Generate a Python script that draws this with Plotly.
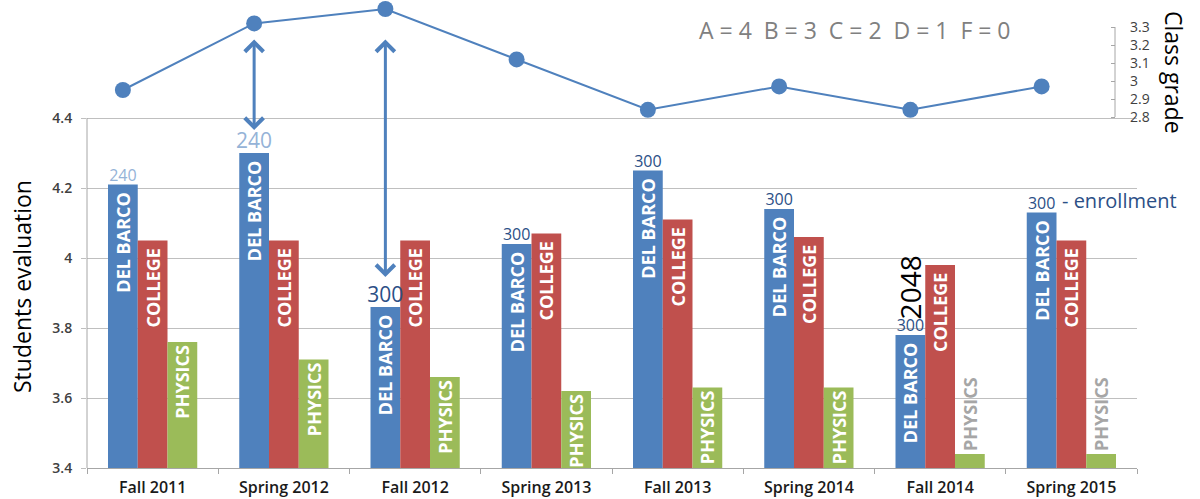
import numpy as np
import plotly.graph_objects as go

# ---------------- data ----------------
terms = ["Fall 2011", "Spring 2012", "Fall 2012", "Spring 2013",
         "Fall 2013", "Spring 2014", "Fall 2014", "Spring 2015"]
del_barco = [4.21, 4.30, 3.86, 4.04, 4.25, 4.14, 3.78, 4.13]
college = [4.05, 4.05, 4.05, 4.07, 4.11, 4.06, 3.98, 4.05]
physics = [3.76, 3.71, 3.66, 3.62, 3.63, 3.63, 3.44, 3.44]
class_grade = [2.95, 3.32, 3.40, 3.12, 2.84, 2.97, 2.84, 2.97]
enrollment = ["240", "240", "300", "300", "300", "300", "300", "300"]
eval_ticks = [3.4, 3.6, 3.8, 4.0, 4.2, 4.4]
eval_ticktext = ["3.4", "3.6", "3.8", "4", "4.2", "4.4"]
grade_ticks = [2.8, 2.9, 3.0, 3.1, 3.2, 3.3]
grade_ticktext = ["2.8", "2.9", "3", "3.1", "3.2", "3.3"]
series_labels = ["DEL BARCO", "COLLEGE", "PHYSICS"]
grade_key = "A = 4\u00a0\u00a0B = 3\u00a0\u00a0C = 2\u00a0\u00a0D = 1\u00a0\u00a0F = 0"

# ---------------- styling / layout constants ----------------
W, H = 1200, 499
ML, MR, MT, MB = 87, 63, 0, 31
PW, PH = W - ML - MR, H - MT - MB
BLUE, RED, GREEN = "#4F81BD", "#C0504D", "#9BBB59"
GRID = "#BFBFBF"
AXIS = "#A6A6A6"
FONT = "Open Sans"
BARGAP = 0.32
PAD = "\u00a0"

idx = np.arange(len(terms))
unit = (1 - BARGAP) / 3          # width of one bar in x units
db_x = idx - unit                # centre of the DEL BARCO bars

# left axis: 350 px per unit, right axis: 180 px per unit (3.3 at 27 px from top)
y_range = [3.4, 3.4 + PH / 350]
y2_top = 3.3 + 27 / 180
y2_range = [y2_top - PH / 180, y2_top]
y2_pos = (1115 - ML) / PW


def px_x(p):
    return (p - ML) / PW


def px_y(p):
    return 1 - (p - MT) / PH


def py_val(p):  # pixel row -> left-axis value
    return y_range[0] + (MT + PH - p) / 350


fig = go.Figure()

bar_font_in = dict(family=FONT, size=18, color="white", weight="bold")
for vals, color, label in [(del_barco, BLUE, series_labels[0]),
                           (college, RED, series_labels[1])]:
    fig.add_bar(x=idx, y=vals, marker=dict(color=color, line=dict(width=0)),
                text=[label + PAD] * len(vals), textposition="inside",
                insidetextanchor="end", textangle=-90, constraintext="none",
                insidetextfont=bar_font_in, name=label, hoverinfo="y")

phys_pos = ["inside" if v > 3.5 else "outside" for v in physics]
fig.add_bar(x=idx, y=physics, marker=dict(color=GREEN, line=dict(width=0)),
            text=[series_labels[2]] * len(physics), textposition=phys_pos,
            insidetextanchor="end", textangle=-90, constraintext="none",
            insidetextfont=bar_font_in,
            outsidetextfont=dict(family=FONT, size=18, color="#A6A6A6", weight="bold"),
            name=series_labels[2], hoverinfo="y")

# enrollment labels above DEL BARCO bars
enroll_colors = ["#95B3D7" if e == "240" else "#2B4F86" for e in enrollment]
enroll_sizes = [16, 21, 21, 16, 16, 16, 16, 16]
fig.add_scatter(x=db_x, y=del_barco, mode="text", text=enrollment,
                textposition="top center",
                textfont=dict(family=FONT, size=enroll_sizes, color=enroll_colors),
                showlegend=False, hoverinfo="skip", cliponaxis=False)

# class grade line
fig.add_scatter(x=db_x, y=class_grade, yaxis="y2", mode="lines+markers",
                line=dict(color=BLUE, width=2),
                marker=dict(size=16, color=BLUE),
                cliponaxis=False, name="Class grade")

fig.update_layout(
    width=W, height=H,
    margin=dict(l=ML, r=MR, t=MT, b=MB),
    paper_bgcolor="white", plot_bgcolor="white",
    barmode="group", bargap=BARGAP, bargroupgap=0,
    showlegend=False,
    font=dict(family=FONT, color="#262626"),
    xaxis=dict(range=[-0.5, len(terms) - 0.5], tickvals=idx, ticktext=terms,
               ticks="", showgrid=False, zeroline=False,
               showline=True, linecolor=AXIS, linewidth=1,
               tickfont=dict(family=FONT, size=16, color="#1a1a1a", weight=600),
               ticklabelstandoff=5,
               minor=dict(tickvals=list(np.arange(len(terms) + 1) - 0.5),
                          ticks="outside", ticklen=5, tickcolor=AXIS,
                          showgrid=False)),
    yaxis=dict(range=y_range, tickvals=eval_ticks, ticktext=eval_ticktext,
               showgrid=True, gridcolor=GRID, gridwidth=1, zeroline=False,
               showline=False, ticks="outside", ticklen=5, tickcolor=GRID,
               tickfont=dict(family=FONT, size=14, color="#404040", weight=600),
               ticklabelstandoff=6),
    yaxis2=dict(overlaying="y", side="right", anchor="free", position=y2_pos,
                range=y2_range, tickvals=grade_ticks, ticktext=grade_ticktext,
                showgrid=False, zeroline=False, showline=False,
                ticks="inside", ticklen=4, tickcolor=AXIS,
                tickfont=dict(family=FONT, size=14, color="#404040"),
                ticklabelstandoff=14),
)

# partial axis lines
fig.add_shape(type="line", xref="paper", yref="y", x0=0, x1=0,
              y0=eval_ticks[0], y1=eval_ticks[-1],
              line=dict(color=AXIS, width=1))
fig.add_shape(type="line", xref="paper", yref="y2", x0=y2_pos, x1=y2_pos,
              y0=grade_ticks[0], y1=grade_ticks[-1],
              line=dict(color=AXIS, width=1))

# double-headed arrows from the grade points to the evaluation bars
arrow_rows = [(1, 38, 130), (2, 38, 277)]   # term index, top px row, bottom px row
for i, top_px, bot_px in arrow_rows:
    fig.add_annotation(x=db_x[i], y=py_val(bot_px), ax=db_x[i], ay=py_val(top_px),
                       xref="x", yref="y", axref="x", ayref="y", text="",
                       showarrow=True, arrowside="end+start",
                       arrowhead=4, startarrowhead=4,
                       arrowsize=1.2, startarrowsize=1.2, arrowwidth=3,
                       arrowcolor=BLUE, standoff=0, startstandoff=0)

# texts
txt = dict(xref="paper", yref="paper", showarrow=False,
           xanchor="center", yanchor="middle")
fig.add_annotation(x=px_x(855), y=px_y(30), text=grade_key,
                   font=dict(family=FONT, size=23, color="#808080"), **txt)
fig.add_annotation(x=px_x(1174), y=px_y(72), text="Class grade", textangle=90,
                   font=dict(family=FONT, size=23, color="black"), **txt)
fig.add_annotation(x=px_x(22), y=px_y(287), text="Students evaluation",
                   textangle=-90,
                   font=dict(family=FONT, size=23, color="black"), **txt)
fig.add_annotation(x=px_x(1179), y=px_y(200), xref="paper", yref="paper",
                   showarrow=False, xanchor="right", yanchor="middle",
                   text="- enrollment",
                   font=dict(family=FONT, size=20, color="#2B4F86"))
fig.add_annotation(x=db_x[6], y=py_val(287), xref="x", yref="y",
                   text="2048", textangle=-90, showarrow=False,
                   xanchor="center", yanchor="middle",
                   font=dict(family="Liberation Sans Narrow, " + FONT, size=28,
                             color="black"))

fig.write_html("out.html")
